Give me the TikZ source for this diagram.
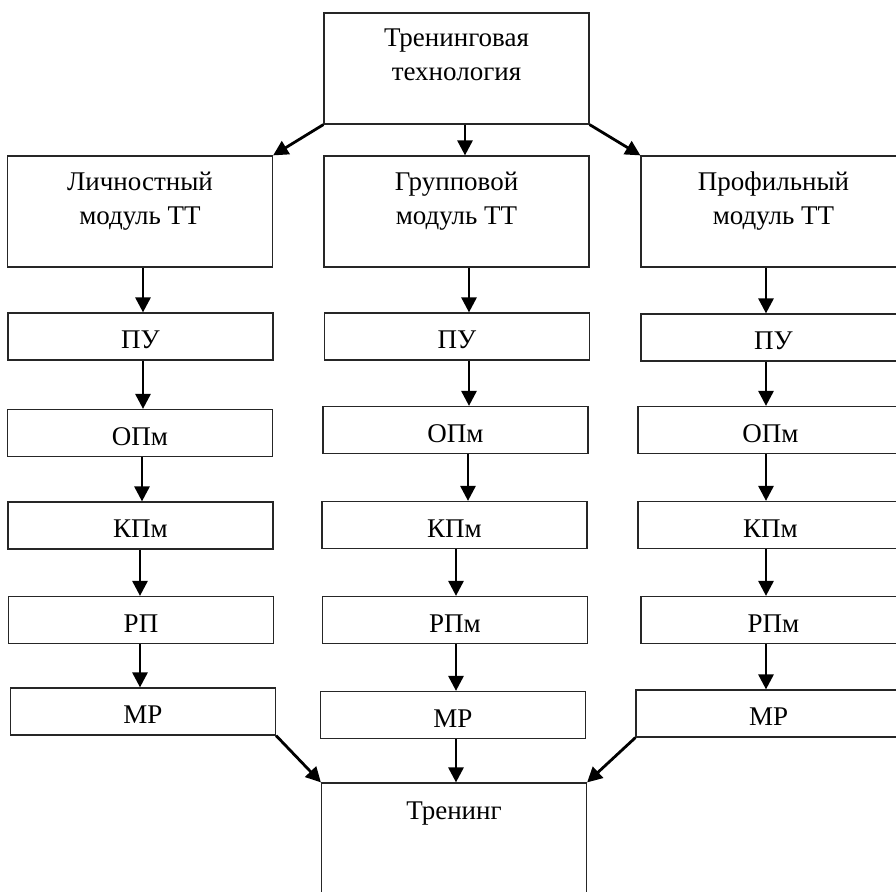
\documentclass[tikz,border=0pt]{standalone}
\usepackage{fontspec}
\setmainfont{Liberation Serif}
\usetikzlibrary{positioning,arrows.meta}

\begin{document}
\begin{tikzpicture}[x=1pt,y=-1pt,font=\fontsize{27}{34}\selectfont]
\tikzstyle{bx}=[draw=black!85,line width=1.2pt,minimum width=265pt,minimum height=47pt,inner sep=0pt,text height=24pt,text depth=0pt]
\tikzstyle{mbx}=[bx,minimum height=111pt]
\tikzstyle{ttl}=[anchor=north,align=center,inner sep=0pt,yshift=-16pt]
\tikzstyle{ed}=[draw=black,line width=2.8pt,-{Triangle[length=15pt,width=15pt]}]
\useasboundingbox (0,0) rectangle (896,891);
\clip (0,0) rectangle (896,891);
% top
\node [mbx,label={[ttl]north:{Тренинговая\\технология}}] (t0) at (456.5,68.5) {};
% modules
\node [mbx,label={[ttl]north:{Личностный\\модуль ТТ}}] (l0) at (140,211.5) {};
\node [mbx,label={[ttl]north:{Групповой\\модуль ТТ}}] (g0) at (456.5,211.5) {};
\node [mbx,label={[ttl]north:{Профильный\\модуль ТТ}}] (p0) at (773.5,211.5) {};
% left column
\node [bx] (l1) at (140.5,336.5) {ПУ};
\node [bx] (l2) at (140,433) {ОПм};
\node [bx] (l3) at (140.5,525.5) {КПм};
\node [bx] (l4) at (141,620) {РП};
\node [bx] (l5) at (143,711.5) {МР};
% middle column
\node [bx] (g1) at (457,336.5) {ПУ};
\node [bx] (g2) at (455.5,430) {ОПм};
\node [bx] (g3) at (454.5,525) {КПм};
\node [bx] (g4) at (455,620) {РПм};
\node [bx] (g5) at (453,715) {МР};
% right column
\node [bx] (p1) at (773.5,337.5) {ПУ};
\node [bx] (p2) at (770.5,430) {ОПм};
\node [bx] (p3) at (770.5,525) {КПм};
\node [bx] (p4) at (773.5,620) {РПм};
\node [bx] (p5) at (768.5,713.5) {МР};
% result
\node [mbx,label={[ttl,yshift=-3pt]north:{Тренинг}}] (tr) at (454,838.5) {};
% connectors
\draw [ed] (t0.south west) -- (l0.north east);
\draw [ed] ([xshift=8.5pt]t0.south) -- ([xshift=8.5pt]g0.north);
\draw [ed] (t0.south east) -- (p0.north west);
\draw [ed] ([xshift=3pt]l0.south) -- ([xshift=2.5pt]l1.north);
\draw [ed] ([xshift=2.5pt]l1.south) -- ([xshift=3pt]l2.north);
\draw [ed] ([xshift=2pt]l2.south) -- ([xshift=1.5pt]l3.north);
\draw [ed] ([xshift=-0.5pt]l3.south) -- ([xshift=-1pt]l4.north);
\draw [ed] ([xshift=-1pt]l4.south) -- ([xshift=-3pt]l5.north);
\draw [ed] ([xshift=12.5pt]g0.south) -- ([xshift=12pt]g1.north);
\draw [ed] ([xshift=12pt]g1.south) -- ([xshift=13.5pt]g2.north);
\draw [ed] ([xshift=12.5pt]g2.south) -- ([xshift=13.5pt]g3.north);
\draw [ed] ([xshift=1.5pt]g3.south) -- ([xshift=1pt]g4.north);
\draw [ed] ([xshift=1pt]g4.south) -- ([xshift=3pt]g5.north);
\draw [ed] ([xshift=-7.5pt]p0.south) -- ([xshift=-7.5pt]p1.north);
\draw [ed] ([xshift=-7.5pt]p1.south) -- ([xshift=-4.5pt]p2.north);
\draw [ed] ([xshift=-4.5pt]p2.south) -- ([xshift=-4.5pt]p3.north);
\draw [ed] ([xshift=-4.5pt]p3.south) -- ([xshift=-7.5pt]p4.north);
\draw [ed] ([xshift=-7.5pt]p4.south) -- ([xshift=-2.5pt]p5.north);
\draw [ed] (l5.south east) -- (tr.north west);
\draw [ed] ([xshift=3pt]g5.south) -- ([xshift=2pt]tr.north);
\draw [ed] (p5.south west) -- (tr.north east);
\end{tikzpicture}
\end{document}
